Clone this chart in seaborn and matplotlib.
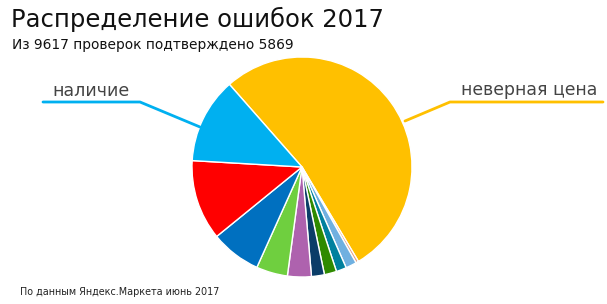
import numpy as np
import matplotlib
matplotlib.use("Agg")
import matplotlib.pyplot as plt
import seaborn as sns
from matplotlib.lines import Line2D

# Data (share of confirmed errors, %)
categories = ["неверная цена", "прочее 1", "прочее 2", "прочее 3", "прочее 4",
              "прочее 5", "прочее 6", "прочее 7", "прочее 8", "прочее 9", "наличие"]
values = [52.9, 0.4, 1.6, 1.5, 1.8, 1.9, 3.5, 4.6, 7.4, 11.8, 12.6]
colors = ["#FFC000", "#E8A080", "#70B0E0", "#00809E", "#2F8A00", "#0B3D68",
          "#AE62AE", "#6FCF3F", "#0070C0", "#FF0000", "#00B0F0"]
title = "Распределение ошибок 2017"
subtitle = "Из 9617 проверок подтверждено 5869"
footer = "По данным Яндекс.Маркета июнь 2017"

sns.set_theme(style="white")
plt.rcParams['font.family'] = ['DejaVu Sans']

W, H = 607, 304
fig = plt.figure(figsize=(W / 100, H / 100), dpi=100)
fig.patch.set_facecolor("white")

cx, cy, r = 302, 167, 110
ax = fig.add_axes([(cx - r) / W, (H - cy - r) / H, 2 * r / W, 2 * r / H])
ax.pie(values, colors=colors, startangle=131.3, counterclock=False,
       wedgeprops=dict(edgecolor="white", linewidth=1.0))
ax.set_xlim(-1, 1)
ax.set_ylim(-1, 1)
ax.set_aspect("equal")
ax.axis("off")

def fx(px):
    return px / W

def fy(py):
    return (H - py) / H

fig.text(fx(11), fy(19), title, fontsize=17.5, color="#111111",
         va="center", ha="left")
fig.text(fx(12), fy(45), subtitle, fontsize=9.9, color="#111111",
         va="center", ha="left")
fig.text(fx(20), fy(292), footer, fontsize=6.95, color="#222222",
         va="center", ha="left")

# leader lines
def leader(points, color):
    xs = [fx(p[0]) for p in points]
    ys = [fy(p[1]) for p in points]
    fig.add_artist(Line2D(xs, ys, color=color, linewidth=2, transform=fig.transFigure))

leader([(43, 102), (140, 102), (200, 127)], "#00B0F0")
leader([(603, 102), (450, 102), (405, 121)], "#FFC000")
fig.text(fx(52), fy(91), "наличие", fontsize=12.5, color="#444444",
         va="center", ha="left")
fig.text(fx(461), fy(90), "неверная цена", fontsize=12.4, color="#444444",
         va="center", ha="left")

fig.savefig("out.png", dpi=100, facecolor="white")
